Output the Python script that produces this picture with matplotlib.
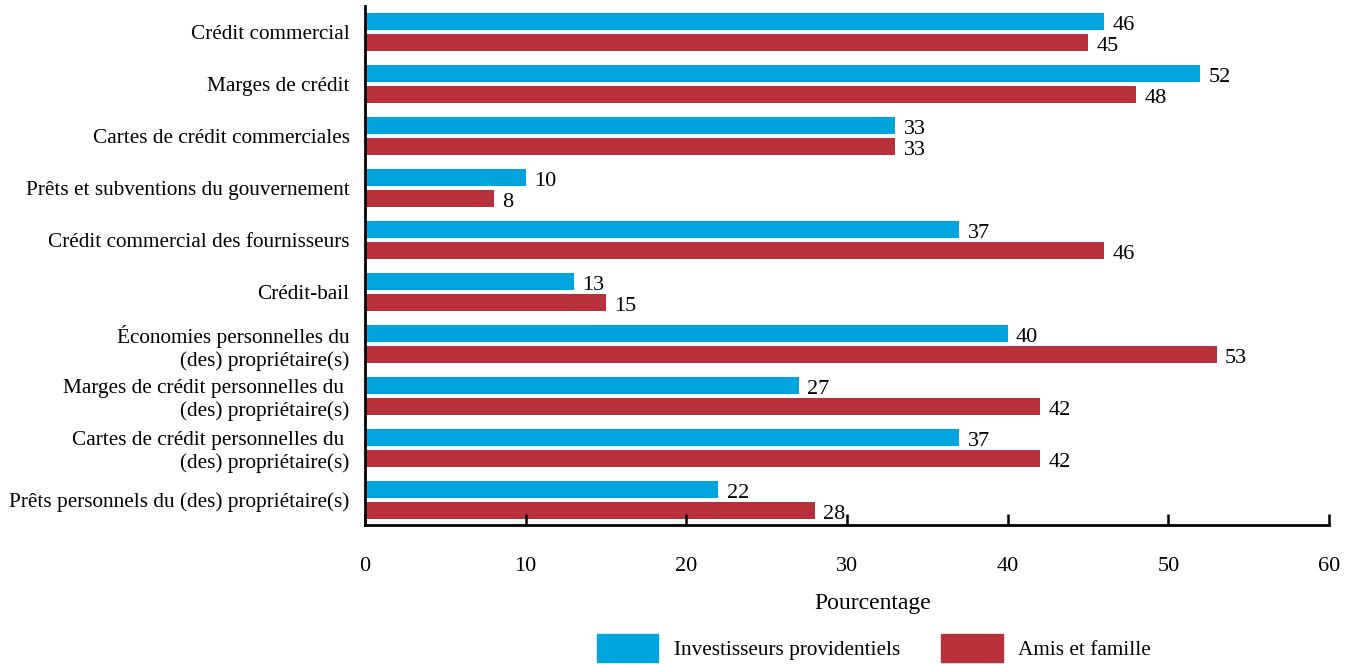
import matplotlib
matplotlib.use("Agg")
import matplotlib.pyplot as plt
import numpy as np
from matplotlib.patches import Patch

plt.rcParams['font.family'] = ['Liberation Serif', 'DejaVu Serif']

categories = [
    "Crédit commercial",
    "Marges de crédit",
    "Cartes de crédit commerciales",
    "Prêts et subventions du gouvernement",
    "Crédit commercial des fournisseurs",
    "Crédit-bail",
    "Économies personnelles du\n(des) propriétaire(s)",
    "Marges de crédit personnelles du \n(des) propriétaire(s)",
    "Cartes de crédit personnelles du \n(des) propriétaire(s)",
    "Prêts personnels du (des) propriétaire(s)",
]
investisseurs = [46, 52, 33, 10, 37, 13, 40, 27, 37, 22]
amis_famille = [45, 48, 33, 8, 46, 15, 53, 42, 42, 28]
series_names = ["Investisseurs providentiels", "Amis et famille"]
x_ticks = [0, 10, 20, 30, 40, 50, 60]

blue = "#00A5DE"
red = "#B7303A"

W, H = 1355, 664
fig = plt.figure(figsize=(W / 100, H / 100), dpi=100)
ax = fig.add_axes([365 / W, 1 - 525 / H, (1329 - 365) / W, (525 - 6) / H])

y = np.arange(len(categories))
bh = 0.327
off = 0.202
ax.barh(y - off, investisseurs, height=bh, color=blue, label=series_names[0])
ax.barh(y + off, amis_famille, height=bh, color=red, label=series_names[1])

fs = 15.3
fs_val = 16
for yi, v in zip(y - off, investisseurs):
    ax.annotate(str(v), (v, yi), xytext=(6, -3), textcoords='offset points',
                ha='left', va='center', fontsize=fs_val)
for yi, v in zip(y + off, amis_famille):
    ax.annotate(str(v), (v, yi), xytext=(6, -3), textcoords='offset points',
                ha='left', va='center', fontsize=fs_val)

ax.set_xlim(0, 60)
ax.set_ylim(9.48, -0.5)
ax.set_xticks(x_ticks)
ax.set_xticklabels([str(t) for t in x_ticks], fontsize=fs_val)
ax.set_yticks(y)
ax.set_yticklabels(categories, fontsize=fs)
ax.tick_params(axis='x', direction='in', length=8, width=1.8, pad=23)
ax.tick_params(axis='y', length=0, pad=11)
for s in ['top', 'right']:
    ax.spines[s].set_visible(False)
for s in ['left', 'bottom']:
    ax.spines[s].set_linewidth(2)
    ax.spines[s].set_color('black')

fig.text(873 / W, 1 - 604 / H, "Pourcentage", ha='center', va='center', fontsize=17)

handles = [Patch(color=blue), Patch(color=red)]
fig.legend(handles, series_names, loc='center', bbox_to_anchor=(874 / W, 1 - 648 / H),
           ncol=2, frameon=False, fontsize=fs, handlelength=2.9, handleheight=1.7,
           handletextpad=0.75, columnspacing=1.9)

fig.savefig("out.png", dpi=100)
